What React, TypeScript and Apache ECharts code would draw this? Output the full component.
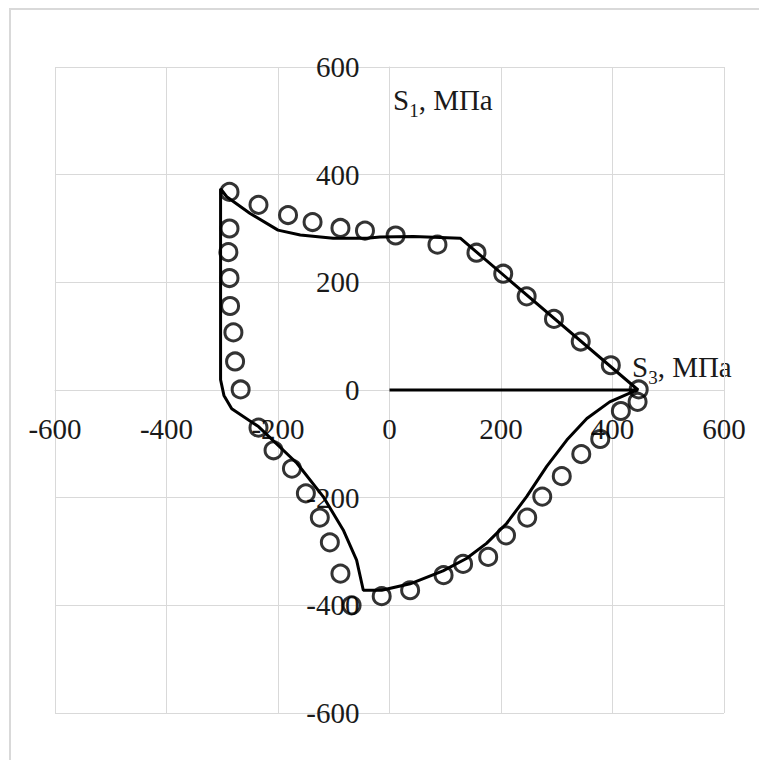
import React, { useEffect, useRef } from "react";
import * as echarts from "echarts";

// Axis range and tick step (MPa), same for S3 (horizontal) and S1 (vertical)
const axisMin = -600;
const axisMax = 600;
const axisStep = 200;

// Measured points (S3, S1), MPa
const measuredUpper: number[][] = [
  [-287, 368], [-235, 344], [-182, 325], [-138, 312], [-88, 301], [-44, 296],
  [11, 287], [86, 270], [156, 255], [204, 216], [246, 174], [295, 132],
  [343, 90], [397, 46], [447, 1],
];
const measuredLeft: number[][] = [
  [-287, 300], [-289, 256], [-287, 208], [-286, 156], [-280, 107], [-277, 53], [-267, 1],
];
const measuredLowerLeft: number[][] = [
  [-235, -70], [-208, -112], [-175, -146], [-150, -192], [-125, -237],
  [-107, -283], [-88, -341], [-68, -400],
];
const measuredLower: number[][] = [
  [-14, -383], [37, -372], [97, -344], [132, -323], [177, -310], [209, -270],
  [247, -237], [274, -198], [309, -160], [344, -119], [378, -91], [415, -39], [445, -22],
];

// Computed limit contour (S3, S1), MPa
const contourUpper: number[][] = [
  [0, 0], [446, 0], [127, 282], [43, 285], [-17, 284], [-41, 282], [-101, 282],
  [-160, 288], [-200, 297], [-250, 328], [-292, 359], [-303, 374],
];
const contourLeft: number[][] = [
  [-303, 19], [-297, -10], [-283, -35], [-235, -68], [-166, -136], [-119, -198],
  [-83, -260], [-59, -316], [-47, -372],
];
const contourLower: number[][] = [
  [-14, -372], [37, -360], [96, -336], [138, -313], [174, -285], [210, -248],
  [246, -198], [282, -142], [318, -93], [354, -53], [395, -22], [437, -3], [446, 0],
];

const FONT = "'Liberation Serif', 'Times New Roman', serif";
const INK = "#1a1a1a";

// Plot box inside the 759x760 canvas
const GRID = { left: 55, right: 35, top: 67, bottom: 47 };
const PLOT_W = 759 - GRID.left - GRID.right;
const PLOT_H = 760 - GRID.top - GRID.bottom;

const tickRich = {
  v: { fontFamily: FONT, fontSize: 29, color: INK },
};

const titleRich = {
  a: { fontFamily: FONT, fontSize: 29, fill: INK, lineHeight: 34, verticalAlign: "bottom" },
  s: { fontFamily: FONT, fontSize: 19, fill: INK, lineHeight: 34, verticalAlign: "bottom", padding: [0, 0, -6, 0] },
};

export default function App() {
  const ref = useRef<HTMLDivElement>(null);

  useEffect(() => {
    document.body.style.margin = "0";
    if (!ref.current) return;
    const chart = echarts.init(ref.current, null, { renderer: "svg" });

    const axisCommon = {
      type: "value" as const,
      min: axisMin,
      max: axisMax,
      interval: axisStep,
      axisLine: { show: true, onZero: false, lineStyle: { color: "#d9d9d9", width: 1 } },
      axisTick: { show: false },
      splitLine: { show: true, lineStyle: { color: "#d9d9d9", width: 1 } },
    };

    chart.setOption({
      animation: false,
      backgroundColor: "#ffffff",
      textStyle: { fontFamily: FONT },
      grid: { ...GRID, containLabel: false, outerBoundsMode: "none" },
      xAxis: {
        ...axisCommon,
        position: "bottom",
        // axes cross in the middle of the plot (at the origin)
        offset: -PLOT_H / 2,
        axisLabel: {
          formatter: (v: number) => `{v|${v}}`,
          rich: tickRich,
          fontFamily: FONT,
          fontSize: 29,
          color: INK,
          margin: 24,
          hideOverlap: false,
        },
      },
      yAxis: {
        ...axisCommon,
        position: "left",
        offset: -PLOT_W / 2,
        axisLabel: {
          formatter: (v: number) => `{v|${v}}`,
          rich: tickRich,
          fontFamily: FONT,
          fontSize: 29,
          color: INK,
          margin: 30,
          hideOverlap: false,
        },
      },
      graphic: [
        {
          type: "rect",
          shape: { x: 10, y: 9, width: 800, height: 800 },
          style: { fill: "none", stroke: "#d9d9d9", lineWidth: 2 },
          silent: true,
          z: -1,
        },
        {
          type: "text",
          x: 393,
          y: 97,
          style: { text: "{a|S}{s|1}{a|, МПа}", verticalAlign: "middle", rich: titleRich },
        },
        {
          type: "text",
          x: 632,
          y: 364,
          style: { text: "{a|S}{s|3}{a|, МПа}", verticalAlign: "middle", rich: titleRich },
        },
      ],
      series: [
        {
          type: "line",
          data: [...contourUpper, ...contourLeft, ...contourLower],
          showSymbol: false,
          lineStyle: { color: "#000", width: 3 },
          z: 2,
        },
        {
          type: "scatter",
          data: [...measuredUpper, ...measuredLeft, ...measuredLowerLeft, ...measuredLower],
          symbol: "circle",
          symbolSize: 17,
          itemStyle: { color: "rgba(0,0,0,0)", borderColor: "#000", borderWidth: 3 },
          z: 3,
        },
      ],
    });

    return () => chart.dispose();
  }, []);

  return <div ref={ref} style={{ width: 759, height: 760 }} />;
}
